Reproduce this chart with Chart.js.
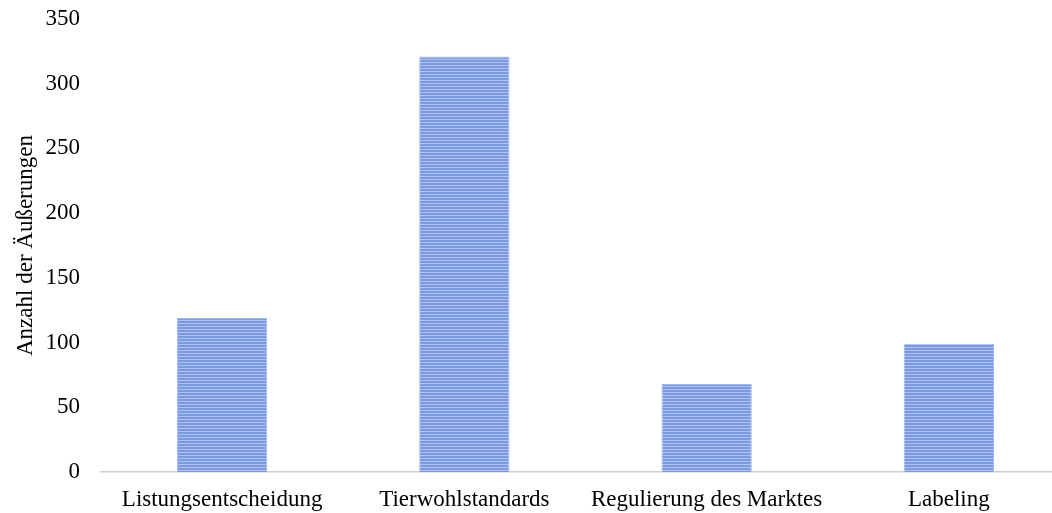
<!DOCTYPE html>
<html>
<head>
<meta charset="utf-8">
<script src="https://cdn.jsdelivr.net/npm/chart.js@4/dist/chart.umd.min.js"></script>
<style>
  html, body { margin: 0; padding: 0; background: #fff; overflow: hidden; }
  #wrap { width: 1070px; height: 513px; }
</style>
</head>
<body>
<div id="wrap"><canvas id="barChart"></canvas></div>
<script>
const categories = ['Listungsentscheidung', 'Tierwohlstandards', 'Regulierung des Marktes', 'Labeling'];
const counts = [119, 321, 68, 99];
const yTicks = [0, 50, 100, 150, 200, 250, 300, 350];
const yTitle = 'Anzahl der Äußerungen';

// horizontal stripe fill like the original bars
function stripePattern() {
  const c = document.createElement('canvas');
  c.width = 4;
  c.height = 3;
  const g = c.getContext('2d');
  g.fillStyle = '#7b99df';
  g.fillRect(0, 0, 4, 2);
  g.fillStyle = '#b0c3ee';
  g.fillRect(0, 2, 4, 1);
  return g.createPattern(c, 'repeat');
}

const ctx = document.getElementById('barChart').getContext('2d');
const font = { family: "'Liberation Serif', 'Times New Roman', serif", size: 23 };

new Chart(ctx, {
  type: 'bar',
  data: {
    labels: categories,
    datasets: [{
      data: counts,
      backgroundColor: stripePattern(),
      borderColor: '#a3b8ea',
      borderWidth: 1,
      categoryPercentage: 1,
      barPercentage: 0.373
    }]
  },
  options: {
    responsive: true,
    maintainAspectRatio: false,
    animation: false,
    layout: { padding: { top: 19, right: 0, left: 0, bottom: 0 } },
    plugins: {
      legend: { display: false },
      tooltip: { enabled: false }
    },
    scales: {
      x: {
        grid: { display: false },
        border: { display: true, color: '#d0d0d0', width: 1.5 },
        ticks: { color: '#000', font: font, padding: 6, maxRotation: 0 },
        afterFit: (axis) => { axis.height = 41; }
      },
      y: {
        min: 0,
        max: 350,
        afterBuildTicks: (axis) => { axis.ticks = yTicks.map(v => ({ value: v })); },
        grid: { display: false },
        border: { display: false },
        ticks: { color: '#000', font: font, padding: 13 },
        title: { display: true, text: yTitle, color: '#000', font: font, padding: { top: 12, bottom: 0 } },
        afterFit: (axis) => {
          axis.width = 101;
          axis.paddingTop = 0;
          axis.paddingBottom = 0;
        }
      }
    }
  }
});
</script>
</body>
</html>
